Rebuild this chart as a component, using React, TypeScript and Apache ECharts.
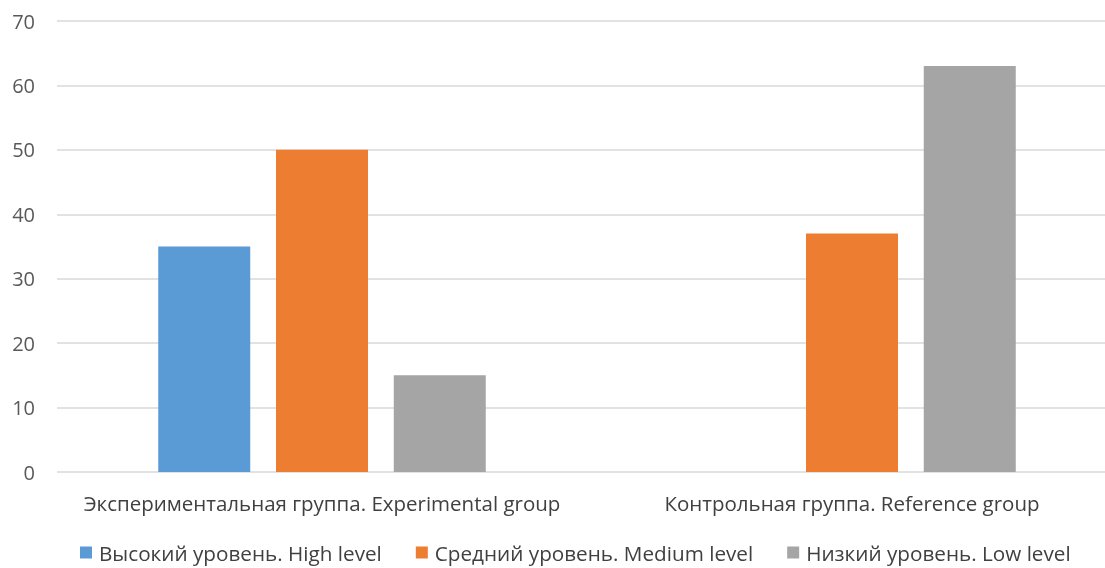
import React, { useEffect, useRef } from "react";
import * as echarts from "echarts";

const categories = ["Экспериментальная группа. Experimental group", "Контрольная группа. Reference group"];
const seriesNames = ["Высокий уровень. High level", "Средний уровень. Medium level", "Низкий уровень. Low level"];
const highValues = [35, 0];
const mediumValues = [50, 37];
const lowValues = [15, 63];
const colors = ["#5B9BD5", "#ED7D31", "#A5A5A5"];

export default function App() {
  const ref = useRef<HTMLDivElement>(null);
  useEffect(() => {
    if (!ref.current) return;
    const chart = echarts.init(ref.current, null, { renderer: "svg" });
    const font = "Open Sans";
    const data = [highValues, mediumValues, lowValues];
    chart.setOption({
      animation: false,
      color: colors,
      textStyle: { fontFamily: font },
      grid: { left: 57, right: 0, top: 21, bottom: 96, containLabel: false },
      legend: {
        left: 80,
        top: 542,
        padding: 0,
        itemWidth: 12,
        itemHeight: 12,
        itemGap: 34,
        icon: "rect",
        textStyle: { fontFamily: font, fontSize: 20.7, lineHeight: 20, color: "#404040", padding: [0, 0, 0, 2] },
        data: seriesNames,
      },
      xAxis: {
        type: "category",
        data: categories,
        axisLine: { show: false },
        axisTick: { show: false },
        axisLabel: { fontFamily: font, fontSize: 20.5, color: "#404040", margin: 20, interval: 0 },
      },
      yAxis: {
        type: "value",
        min: 0,
        max: 70,
        interval: 10,
        axisLine: { show: false },
        axisTick: { show: false },
        splitLine: { lineStyle: { color: "#D9D9D9", width: 1.5 } },
        axisLabel: { fontFamily: font, fontSize: 20, color: "#595959", margin: 22 },
      },
      series: seriesNames.map((name, i) => ({
        name,
        type: "bar",
        data: data[i],
        barWidth: 92,
        barGap: "28%",
        itemStyle: { color: colors[i] },
      })),
    });
    return () => chart.dispose();
  }, []);
  return <div ref={ref} style={{ position: "fixed", left: 0, top: 0, width: 1117, height: 568 }} />;
}
